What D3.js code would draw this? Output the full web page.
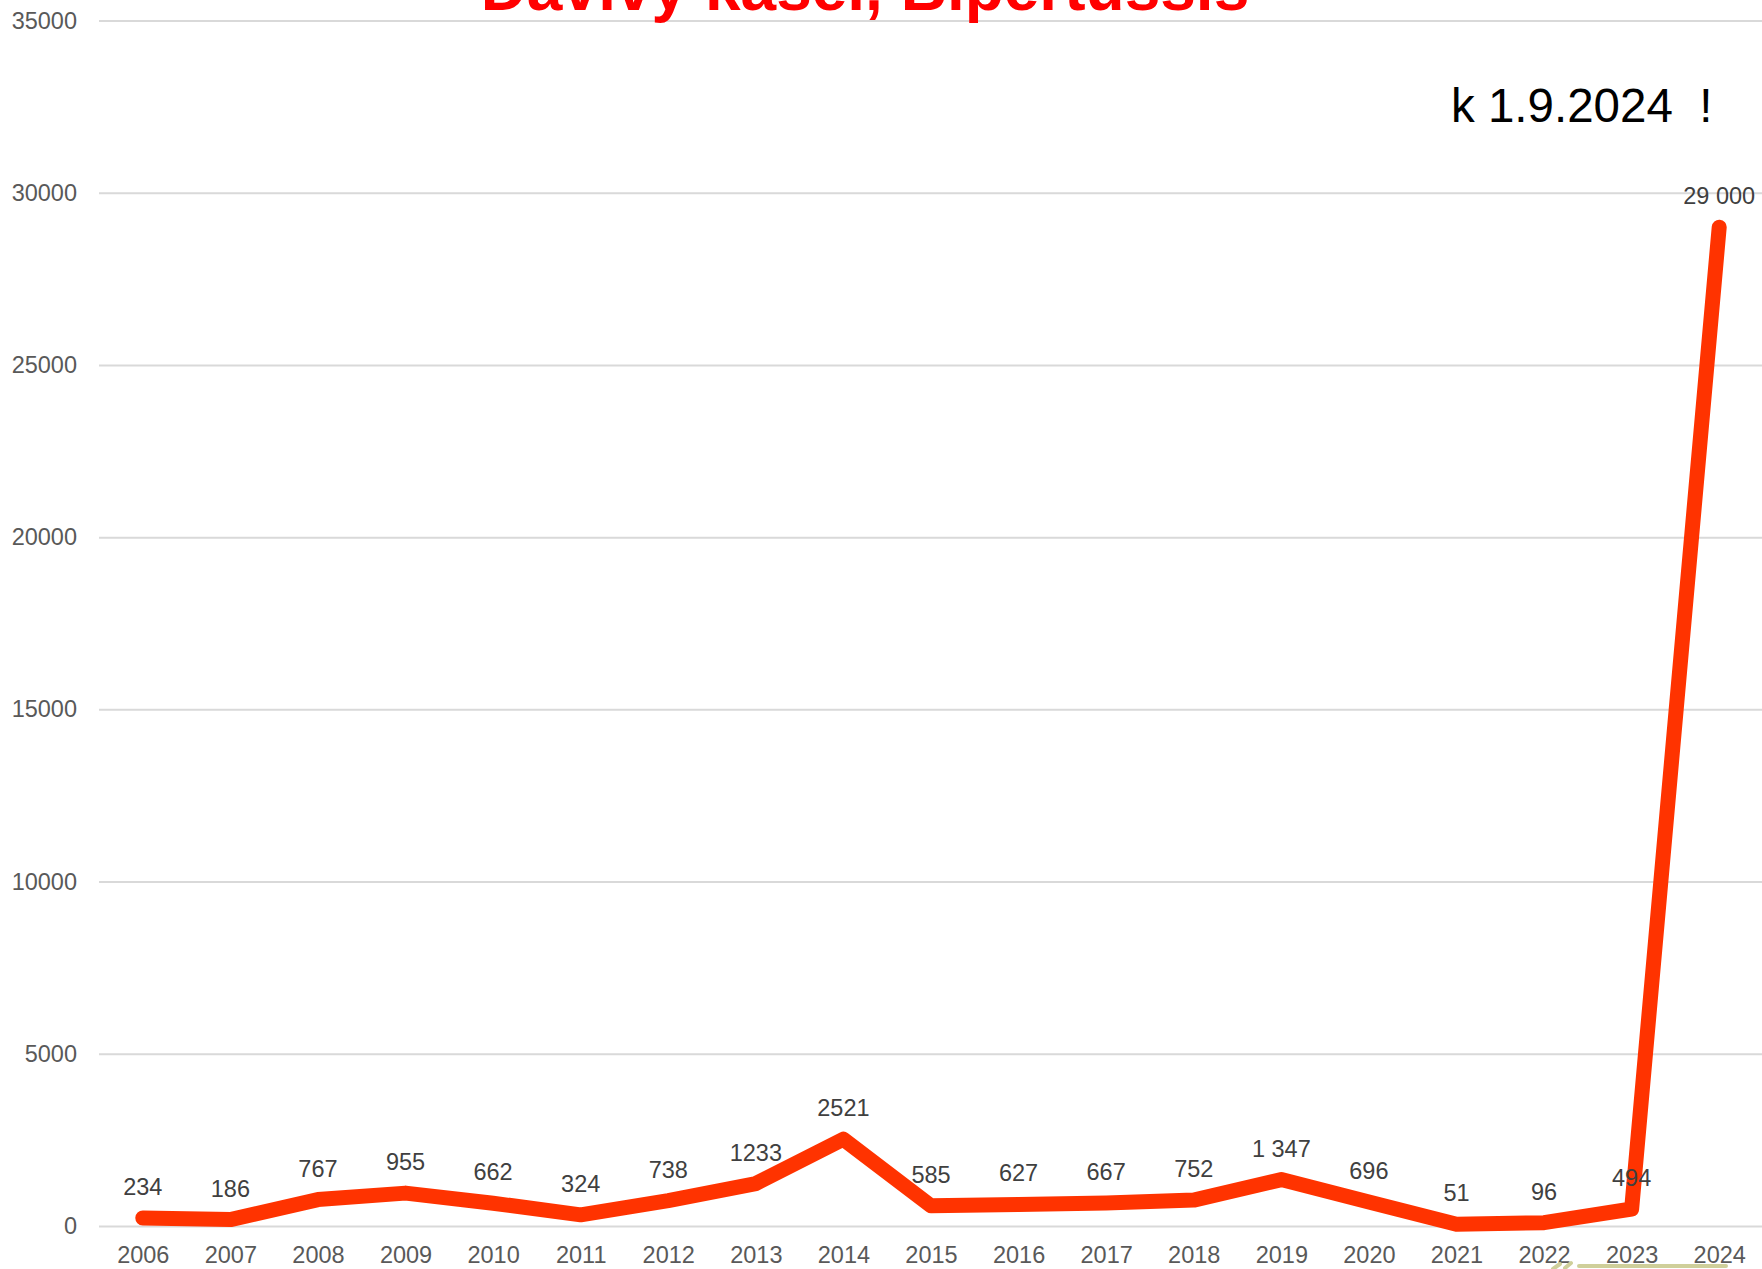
<!DOCTYPE html>
<html>
<head>
<meta charset="utf-8">
<script src="https://cdn.jsdelivr.net/npm/d3@7"></script>
<style>
html,body{margin:0;padding:0;background:#fff;overflow:hidden;}
svg{display:block;font-family:"Liberation Sans",Arial,sans-serif;}
</style>
</head>
<body>
<svg id="chart" width="1762" height="1269"></svg>
<script>
const years = ["2006","2007","2008","2009","2010","2011","2012","2013","2014","2015","2016","2017","2018","2019","2020","2021","2022","2023","2024"];
const cases = [234,186,767,955,662,324,738,1233,2521,585,627,667,752,1347,696,51,96,494,29000];
const valueLabels = ["234","186","767","955","662","324","738","1233","2521","585","627","667","752","1 347","696","51","96","494","29 000"];
const yTicks = [0,5000,10000,15000,20000,25000,30000,35000];
const titleText = "Dávivý kašel, Bipertussis";
const noteText = "k 1.9.2024  !";

const svg = d3.select("#chart");
const W = 1762, H = 1269;
const left = 99, right = 1763;
const y0 = 1226, yTop = 20.5;

const x = d3.scalePoint().domain(years).range([left, right]).padding(0.5);
const y = d3.scaleLinear().domain([0, 35000]).range([y0, yTop]);

// gridlines
const yAxis = d3.axisLeft(y).tickValues(yTicks).tickSize(-(W - left)).tickPadding(22).tickFormat(d3.format("d"));
const gy = svg.append("g").attr("transform", `translate(${left},0)`).call(yAxis);
gy.select(".domain").remove();
gy.selectAll(".tick line").attr("stroke", "#d9d9d9").attr("stroke-width", 2);
gy.selectAll(".tick text").attr("fill", "#595959").attr("font-size", 23.5)
  .attr("font-family", "Liberation Sans, Arial, sans-serif");

// x axis labels
const xAxis = d3.axisBottom(x).tickSize(0).tickPadding(0);
const gx = svg.append("g").attr("transform", `translate(0,${y0})`).call(xAxis);
gx.select(".domain").remove();
gx.selectAll(".tick text").attr("fill", "#595959").attr("font-size", 23.5)
  .attr("font-family", "Liberation Sans, Arial, sans-serif")
  .attr("dy", null).attr("y", 37);

// title (partially cut at top, as in the original slide)
svg.append("text").attr("x", 865).attr("y", 10).attr("text-anchor", "middle")
  .attr("font-size", 64).attr("font-weight", "bold").attr("fill", "#ff0000")
  .text(titleText);

// note
svg.append("text").attr("x", 1451).attr("y", 122).attr("text-anchor", "start")
  .attr("font-size", 47.5).attr("fill", "#000").style("white-space", "pre")
  .attr("xml:space", "preserve")
  .text(noteText);

// line
const line = d3.line().x((d, i) => x(years[i])).y(d => y(d));
svg.append("path").datum(cases).attr("d", line)
  .attr("fill", "none").attr("stroke", "#ff3300").attr("stroke-width", 15)
  .attr("stroke-linecap", "round").attr("stroke-linejoin", "round");

// data labels
svg.append("g").selectAll("text").data(cases).join("text")
  .attr("x", (d, i) => x(years[i]))
  .attr("y", d => y(d) - 23)
  .attr("text-anchor", "middle")
  .attr("font-size", 23.5)
  .attr("fill", "#404040")
  .text((d, i) => valueLabels[i]);

// decorative olive stroke at bottom right (slide artifact)
svg.append("path").attr("d", "M1553,1269 L1560,1264 M1565,1268 L1571,1263 M1579,1266 L1726,1266")
  .attr("fill", "none").attr("stroke", "#cfcf9a").attr("stroke-width", 4).attr("stroke-linecap", "round");
</script>
</body>
</html>
